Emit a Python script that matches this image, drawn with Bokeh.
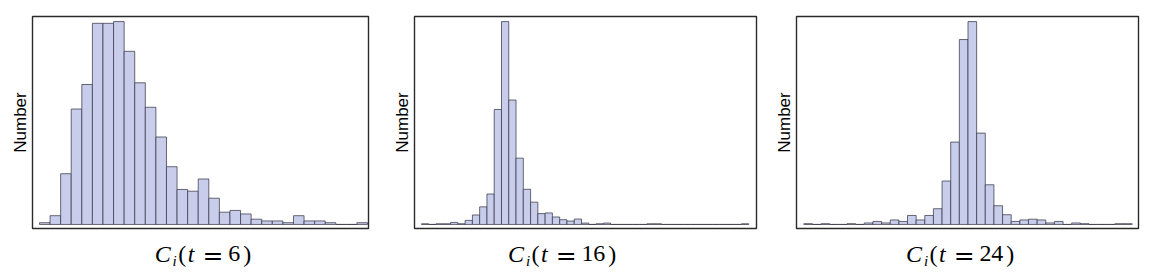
import numpy as np
from bokeh.plotting import figure
from bokeh.models import Label, Range1d, ColumnDataSource, BoxAnnotation
from bokeh.layouts import row
from bokeh.embed import file_html
from bokeh.resources import INLINE

# ---------------- data ----------------
t_values = [6, 16, 24]
y_label = "Number"
x_symbol = "C"
x_sub = "i"
x_var = "t"

# histogram counts per bin, left to right
counts_t6 = [1, 5, 29, 66, 80, 115, 115, 116, 99, 81, 67, 50, 33, 20, 19, 26,
             15, 7, 8, 6, 3, 2, 2, 1, 5, 2, 2, 1, 0, 0, 1]
counts_t16 = [1, 0, 1, 1, 3, 1, 6, 14, 26, 45, 170, 300, 184, 98, 52, 33,
              16, 17, 11, 7, 5, 8, 2, 0, 1, 2, 0, 0, 0, 0, 0, 1, 1, 0, 0, 0,
              0, 0, 0, 0, 0, 0, 0, 0, 1]
counts_t24 = [1, 0, 1, 0, 0, 1, 0, 2, 4, 2, 6, 4, 12, 6, 12, 21, 58, 110, 247,
              271, 122, 53, 25, 13, 4, 6, 7, 6, 2, 4, 0, 2, 1, 0, 0, 0, 1, 1]

# ---------------- style ----------------
FILL = "#C8CDEC"
EDGE = "#3a3a48"
FRAME = "#2a2a2a"
SERIF = "Liberation Serif"
FIG_H = 270
BOX_TOP = 16       # px above the plot box
BOX_BOTTOM = 42    # px below the plot box
BOX_H = FIG_H - BOX_TOP - BOX_BOTTOM

# panel geometry: (fig width, border left, border right, pad bins left, pad bins right, label x)
panels = [
    (counts_t6, t_values[0], 390, 32, 22, 0.66, 0.09, 120.7),
    (counts_t16, t_values[1], 384, 24, 18, 0.96, 1.06, 92.0),
    (counts_t24, t_values[2], 372, 22, 8, 0.845, 0.73, 108.0),
]


def add_text(p, text, x, y, size, italic=False, font=SERIF):
    p.add_layout(Label(x=x, y=y, x_units="screen", y_units="screen", text=text,
                       text_font=font, text_font_size=f"{size}px",
                       text_font_style="italic" if italic else "normal",
                       text_align="center", text_baseline="alphabetic",
                       text_color="black"))


def make_panel(counts, t, width, bl, br, padl, padr, lx):
    n = len(counts)
    left = np.arange(n)
    src = ColumnDataSource(dict(left=left, right=left + 1, top=counts))
    ymax = max(counts)

    # plot box in data units
    bx0, bx1 = -padl, n + padr
    by0, by1 = -0.02 * ymax, 1.025 * ymax
    box_w = width - bl - br
    u = box_w / (bx1 - bx0)          # px per bin
    v = BOX_H / (by1 - by0)          # px per count

    p = figure(width=width, height=FIG_H, output_backend="svg", toolbar_location=None,
               x_axis_location=None, y_axis_location=None,
               x_range=Range1d(bx0 - bl / u, bx1 + br / u),
               y_range=Range1d(by0 - BOX_BOTTOM / v, by1 + BOX_TOP / v),
               min_border=0)
    p.grid.visible = False
    p.outline_line_color = None
    p.background_fill_color = "white"
    p.border_fill_color = "white"
    p.quad(left="left", right="right", bottom=0, top="top", source=src,
           fill_color=FILL, line_color=EDGE, line_alpha=0.75, line_width=1)

    p.add_layout(BoxAnnotation(left=bx0, right=bx1, bottom=by0, top=by1,
                               fill_alpha=0, line_color=FRAME, line_width=1.4,
                               line_alpha=1))

    # y-axis label
    p.add_layout(Label(x=bl - 12, y=BOX_BOTTOM + 106, x_units="screen", y_units="screen",
                       text=y_label, angle=np.pi / 2, text_font="Liberation Sans",
                       text_font_size="17px", text_align="center",
                       text_baseline="middle", text_color="black"))

    # x label  C_i(t = N)
    x0 = bl + lx
    yb = BOX_BOTTOM - 25.3
    add_text(p, x_symbol, x0 + 9.5, yb, 24, italic=True)
    add_text(p, x_sub, x0 + 21.5, yb - 7, 15, italic=True)
    add_text(p, "(", x0 + 29.0, yb, 24)
    add_text(p, x_var, x0 + 37.8, yb, 24, italic=True)
    add_text(p, "=", x0 + 59.8, yb - 1.8, 25, font="DejaVu Sans")
    digits = str(t)
    for k, d in enumerate(digits):
        add_text(p, d, x0 + 81.0 + 11.7 * k, yb, 24)
    add_text(p, ")", x0 + 94.0 + 11.7 * (len(digits) - 1), yb, 24)
    return p


figs = [make_panel(*pp) for pp in panels]
layout = row(*figs, spacing=0)

open("out.html", "w").write(file_html(layout, INLINE))
